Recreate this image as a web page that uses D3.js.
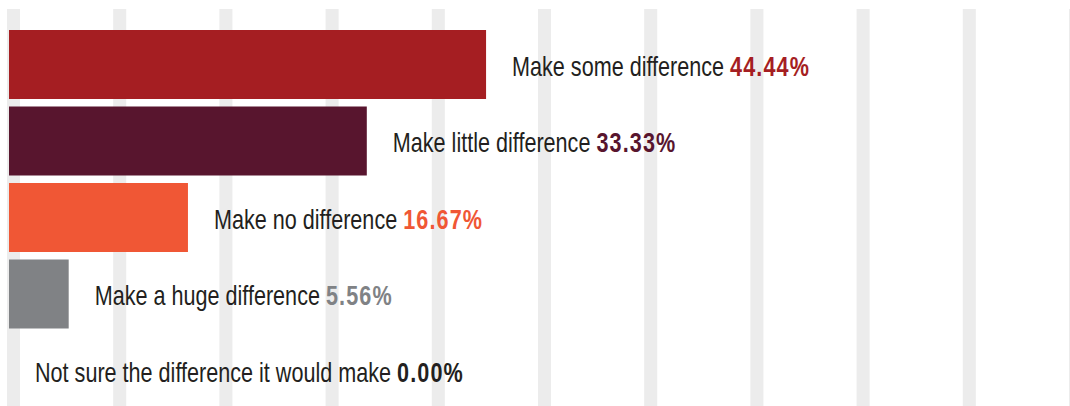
<!DOCTYPE html>
<html>
<head>
<meta charset="utf-8">
<script src="https://cdn.jsdelivr.net/npm/d3@7"></script>
<style>
  html, body { margin: 0; padding: 0; background: #ffffff; }
  svg { display: block; }
  text { font-family: "Liberation Sans", Arial, sans-serif; }
</style>
</head>
<body>
<div id="chart"></div>
<script>
// Survey responses: share of respondents per answer
const categories = [
  "Make some difference",
  "Make little difference",
  "Make no difference",
  "Make a huge difference",
  "Not sure the difference it would make"
];
const values = [44.44, 33.33, 16.67, 5.56, 0.00];
const colors = ["#a51e22", "#58152e", "#f05735", "#808285", "#231f20"];
const gridTicks = d3.range(0, 11);

const width = 1070, height = 406;
// horizontal squeeze that gives the labels a condensed look
const condense = 0.8;

const svg = d3.select("#chart").append("svg")
  .attr("width", width)
  .attr("height", height);

// Value scale for bar lengths (percent)
const x = d3.scaleLinear().domain([0, 100]).range([9, 1082.5]);

// Background grid bands
const gx = d3.scaleLinear().domain([0, 10]).range([7, 1069]);
svg.append("g")
  .selectAll("rect")
  .data(gridTicks)
  .join("rect")
  .attr("x", d => gx(d))
  .attr("y", 9)
  .attr("width", 13)
  .attr("height", height - 9)
  .attr("fill", "#ececec");

// Rows
const y = d3.scaleBand()
  .domain(categories)
  .range([26.25, 408.75])
  .paddingInner(0.098)
  .paddingOuter(0.049);

const rows = svg.append("g")
  .selectAll("g")
  .data(categories.map((c, i) => ({ label: c, value: values[i], color: colors[i] })))
  .join("g");

rows.append("rect")
  .attr("x", x(0))
  .attr("y", d => y(d.label))
  .attr("width", d => x(d.value) - x(0))
  .attr("height", y.bandwidth())
  .attr("fill", d => d.color);

const label = rows.append("text")
  .attr("transform", d =>
    `translate(${x(d.value) + 26},${y(d.label) + y.bandwidth() / 2 + 11}) scale(${condense},1)`)
  .attr("font-size", 27)
  .attr("fill", "#231f20");

label.append("tspan").text(d => d.label + " ");
label.append("tspan")
  .attr("font-weight", "bold")
  .attr("letter-spacing", 1.4)
  .attr("fill", d => d.color)
  .text(d => d.value.toFixed(2) + "%");
</script>
</body>
</html>
